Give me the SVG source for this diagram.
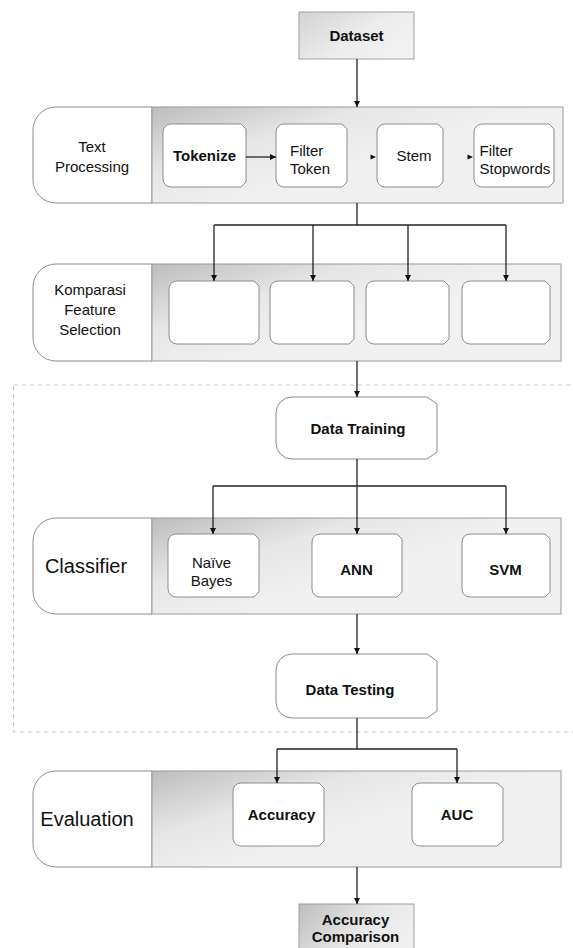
<svg xmlns="http://www.w3.org/2000/svg" width="573" height="948" viewBox="0 0 573 948">
<defs>
<linearGradient id="band" x1="0" y1="0" x2="0.6" y2="0.45">
<stop offset="0" stop-color="#bcbcbc"/>
<stop offset="0.55" stop-color="#e6e6e6"/>
<stop offset="1" stop-color="#f0f0f0"/>
</linearGradient>
<linearGradient id="term" x1="0" y1="0" x2="1" y2="0.6">
<stop offset="0" stop-color="#d2d2d2"/>
<stop offset="0.6" stop-color="#ececec"/>
<stop offset="1" stop-color="#f2f2f2"/>
</linearGradient>
<linearGradient id="term2" x1="0" y1="0" x2="1" y2="0.4">
<stop offset="0" stop-color="#bdbdbd"/>
<stop offset="0.6" stop-color="#e6e6e6"/>
<stop offset="1" stop-color="#efefef"/>
</linearGradient>
<marker id="ah" markerWidth="6" markerHeight="6" refX="6" refY="3" orient="auto" markerUnits="userSpaceOnUse">
<path d="M0,0 L6,3 L0,6 z" fill="#111"/>
</marker>
</defs>
<style>
.lab{font-family:"Liberation Sans",Arial,sans-serif;font-size:15px;fill:#111;}
.b{font-weight:bold;}
.big{font-size:20px;}
.box{fill:#fff;stroke:#8c8c8c;stroke-width:1;}
.bandL{fill:#fff;stroke:#8c8c8c;stroke-width:1;}
.bandR{fill:url(#band);stroke:#9a9a9a;stroke-width:1;}
.ln{fill:none;stroke:#222;stroke-width:1.3;}
.arr{marker-end:url(#ah);}
</style>

<rect id="phase-group" x="13.5" y="385" width="580" height="347" fill="none" stroke="#c8c8c8" stroke-width="1" stroke-dasharray="5,3"/>

<g id="dataset">
<rect x="299" y="12" width="115" height="47" fill="url(#term)" stroke="#a0a0a0"/>
<text class="lab b" x="356.5" y="41" text-anchor="middle">Dataset</text>
</g>

<g id="text-processing">
<path class="bandL" d="M152,107 H56 A23,23 0 0 0 33,130 V180 A23,23 0 0 0 56,203 H152 Z"/>
<rect class="bandR" x="152" y="107" width="411" height="96"/>
<text class="lab" x="92" y="151.5" text-anchor="middle">Text</text>
<text class="lab" x="92" y="171.5" text-anchor="middle">Processing</text>
</g>
<g id="tokenize">
<path class="box" d="M171,124 H241 L246,129 V182 L241,187 H171 A8,8 0 0 1 163,179 V132 A8,8 0 0 1 171,124 Z"/>
<text class="lab b" x="204.5" y="160.5" text-anchor="middle">Tokenize</text>
</g>
<g id="filter-token">
<path class="box" d="M284,124 H342 L347,129 V182 L342,187 H284 A8,8 0 0 1 276,179 V132 A8,8 0 0 1 284,124 Z"/>
<text class="lab" x="290" y="156">Filter</text>
<text class="lab" x="290" y="173.5">Token</text>
</g>
<g id="stem">
<path class="box" d="M385,124 H438 L443,129 V182 L438,187 H385 A8,8 0 0 1 377,179 V132 A8,8 0 0 1 385,124 Z"/>
<text class="lab" x="414" y="161" text-anchor="middle">Stem</text>
</g>
<g id="filter-stopwords">
<path class="box" d="M482,124 H549 L554,129 V182 L549,187 H482 A8,8 0 0 1 474,179 V132 A8,8 0 0 1 482,124 Z"/>
<text class="lab" x="479.5" y="156">Filter</text>
<text class="lab" x="479.5" y="173.5">Stopwords</text>
</g>

<g id="komparasi">
<path class="bandL" d="M152,264 H56 A23,23 0 0 0 33,287 V338 A23,23 0 0 0 56,361 H152 Z"/>
<rect class="bandR" x="152" y="264" width="409" height="97"/>
<text class="lab" x="90" y="294.5" text-anchor="middle">Komparasi</text>
<text class="lab" x="90" y="314.5" text-anchor="middle">Feature</text>
<text class="lab" x="90" y="334.5" text-anchor="middle">Selection</text>
</g>
<g id="fs1"><path class="box" d="M177,281 H254 L259,286 V339 L254,344 H177 A8,8 0 0 1 169,336 V289 A8,8 0 0 1 177,281 Z"/></g>
<g id="fs2"><path class="box" d="M278,281 H349 L354,286 V339 L349,344 H278 A8,8 0 0 1 270,336 V289 A8,8 0 0 1 278,281 Z"/></g>
<g id="fs3"><path class="box" d="M374,281 H444 L449,286 V339 L444,344 H374 A8,8 0 0 1 366,336 V289 A8,8 0 0 1 374,281 Z"/></g>
<g id="fs4"><path class="box" d="M470,281 H545 L550,286 V339 L545,344 H470 A8,8 0 0 1 462,336 V289 A8,8 0 0 1 470,281 Z"/></g>

<g id="data-training">
<path class="box" d="M292,397 H427 L437,404 V452 L427,459 H292 A16,16 0 0 1 276,443 V413 A16,16 0 0 1 292,397 Z"/>
<text class="lab b" x="358" y="434" text-anchor="middle">Data Training</text>
</g>

<g id="classifier">
<path class="bandL" d="M152,518 H56 A23,23 0 0 0 33,541 V591 A23,23 0 0 0 56,614 H152 Z"/>
<rect class="bandR" x="152" y="518" width="409" height="96"/>
<text class="lab big" x="86" y="573" text-anchor="middle">Classifier</text>
</g>
<g id="naive-bayes">
<path class="box" d="M176,534 H254 L259,539 V592 L254,597 H176 A8,8 0 0 1 168,589 V542 A8,8 0 0 1 176,534 Z"/>
<text class="lab" x="211.5" y="568" text-anchor="middle">Naïve</text>
<text class="lab" x="211.5" y="586" text-anchor="middle">Bayes</text>
</g>
<g id="ann">
<path class="box" d="M320,534 H397 L402,539 V592 L397,597 H320 A8,8 0 0 1 312,589 V542 A8,8 0 0 1 320,534 Z"/>
<text class="lab b" x="356.5" y="575" text-anchor="middle">ANN</text>
</g>
<g id="svm">
<path class="box" d="M470,534 H545 L550,539 V592 L545,597 H470 A8,8 0 0 1 462,589 V542 A8,8 0 0 1 470,534 Z"/>
<text class="lab b" x="505.5" y="575" text-anchor="middle">SVM</text>
</g>

<g id="data-testing">
<path class="box" d="M292,654 H427 L437,661 V711 L427,718 H292 A16,16 0 0 1 276,702 V670 A16,16 0 0 1 292,654 Z"/>
<text class="lab b" x="350" y="695" text-anchor="middle">Data Testing</text>
</g>

<g id="evaluation">
<path class="bandL" d="M152,771 H56 A23,23 0 0 0 33,794 V844 A23,23 0 0 0 56,867 H152 Z"/>
<rect class="bandR" x="152" y="771" width="409" height="96"/>
<text class="lab big" x="87" y="826" text-anchor="middle">Evaluation</text>
</g>
<g id="accuracy">
<path class="box" d="M241,783 H319 L324,788 V841 L319,846 H241 A8,8 0 0 1 233,838 V791 A8,8 0 0 1 241,783 Z"/>
<text class="lab b" x="281.5" y="820" text-anchor="middle">Accuracy</text>
</g>
<g id="auc">
<path class="box" d="M420,783 H497 L503,788 V841 L497,846 H420 A8,8 0 0 1 412,838 V791 A8,8 0 0 1 420,783 Z"/>
<text class="lab b" x="457" y="820" text-anchor="middle">AUC</text>
</g>

<g id="accuracy-comparison">
<rect x="299" y="904" width="115" height="50" fill="url(#term2)" stroke="#a0a0a0"/>
<text class="lab b" x="355.5" y="925" text-anchor="middle">Accuracy</text>
<text class="lab b" x="355.5" y="942" text-anchor="middle">Comparison</text>
</g>

<g id="connectors">
<path class="ln arr" d="M357,59 V107"/>
<path class="ln arr" d="M246,157 H276"/>
<path d="M370.5,154.5 L376,157 L370.5,159.5 Z" fill="#111"/>
<path d="M467.5,154.5 L473,157 L467.5,159.5 Z" fill="#111"/>
<path class="ln" d="M357,203 V225 M214,225 H506"/>
<path class="ln arr" d="M214,225 V281"/>
<path class="ln arr" d="M313,225 V281"/>
<path class="ln arr" d="M408,225 V281"/>
<path class="ln arr" d="M506,225 V281"/>
<path class="ln arr" d="M357,361 V397"/>
<path class="ln" d="M357,459 V486 M213,486 H506"/>
<path class="ln arr" d="M213,486 V534"/>
<path class="ln arr" d="M357,486 V534"/>
<path class="ln arr" d="M506,486 V534"/>
<path class="ln arr" d="M357,614 V654"/>
<path class="ln" d="M357,718 V749 M277,749 H457"/>
<path class="ln arr" d="M277,749 V783"/>
<path class="ln arr" d="M457,749 V783"/>
<path class="ln arr" d="M357,867 V904"/>
</g>
</svg>
